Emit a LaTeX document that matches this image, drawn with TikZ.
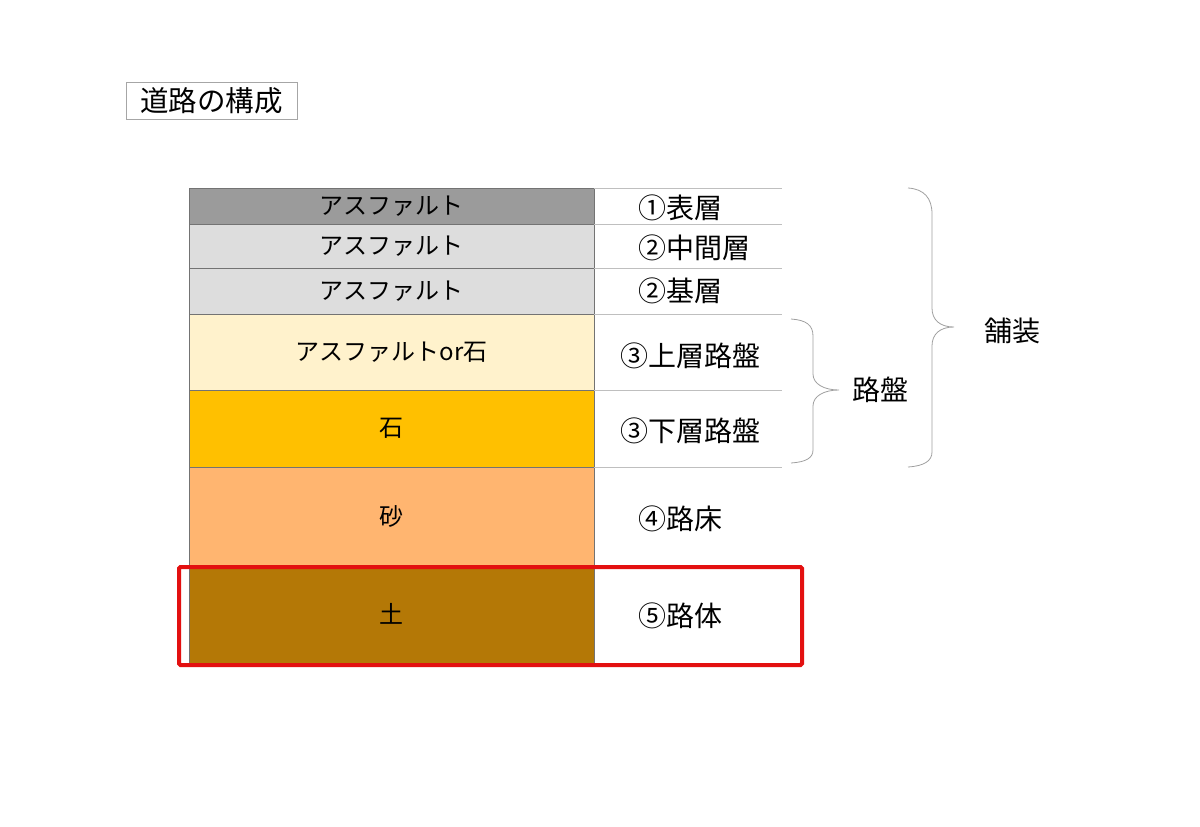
\documentclass[tikz,border=0pt]{standalone}
\usepackage{fontspec}
\setmainfont{Noto Sans CJK JP}
\usetikzlibrary{positioning}
\definecolor{lay1}{HTML}{9B9B9B}
\definecolor{lay2}{HTML}{DDDDDD}
\definecolor{lay4}{HTML}{FFF2CC}
\definecolor{lay5}{HTML}{FFC000}
\definecolor{lay6}{HTML}{FFB570}
\definecolor{lay7}{HTML}{B47806}
\definecolor{redframe}{HTML}{E31010}
\tikzstyle{cell} = [rectangle, draw=gray!90!black, line width=0.6pt, minimum width=405pt, inner sep=0pt, outer sep=0pt, anchor=north, font=\fontsize{24pt}{28pt}\selectfont]
\tikzstyle{side} = [rectangle, minimum width=188pt, inner sep=0pt, outer sep=0pt]
\tikzstyle{lbl} = [inner sep=0pt, anchor=west, font=\fontsize{28pt}{32pt}\selectfont]
\tikzstyle{rule} = [draw=gray!50, line width=0.8pt]
\tikzstyle{brace} = [draw=gray!75, line width=0.8pt]

\begin{document}
\begin{tikzpicture}[x=1pt, y=-1pt]
\useasboundingbox (0,0) rectangle (1200,827);
\node(T)[draw=gray!70, line width=0.6pt, minimum width=171pt, minimum height=37pt, inner sep=0pt, font=\fontsize{28.5pt}{32pt}\selectfont] at (211.5,100.5) {道路の構成};
\node(A1)[cell, fill=lay1, minimum height=36pt] at (391.5,188) {アスファルト};
\node(A2)[cell, fill=lay2, minimum height=44pt, below=0pt of A1] {アスファルト};
\node(A3)[cell, fill=lay2, minimum height=46pt, below=0pt of A2] {アスファルト};
\node(A4)[cell, fill=lay4, minimum height=76pt, below=0pt of A3] {アスファルトor石};
\node(A5)[cell, fill=lay5, minimum height=77pt, below=0pt of A4] {石};
\node(A6)[cell, fill=lay6, minimum height=98pt, below=0pt of A5] {砂};
\node(A7)[cell, fill=lay7, minimum height=98pt, below=0pt of A6] {土};
\node(B1)[side, minimum height=36pt, right=0pt of A1] {};
\node(B2)[side, minimum height=44pt, right=0pt of A2] {};
\node(B3)[side, minimum height=46pt, right=0pt of A3] {};
\node(B4)[side, minimum height=76pt, right=0pt of A4] {};
\node(B5)[side, minimum height=77pt, right=0pt of A5] {};
\node(B6)[side, minimum height=98pt, right=0pt of A6] {};
\node(B7)[side, minimum height=98pt, right=0pt of A7] {};
\node(L1)[lbl, right=44pt of B1.west, yshift=-2pt] {①表層};
\node(L2)[lbl, right=44pt of B2.west, yshift=-2pt] {②中間層};
\node(L3)[lbl, right=44pt of B3.west] {②基層};
\node(L4)[lbl, right=26pt of B4.west, yshift=-4pt] {③上層路盤};
\node(L5)[lbl, right=26pt of B5.west, yshift=-2pt] {③下層路盤};
\node(L6)[lbl, right=44pt of B6.west, yshift=-3pt] {④路床};
\node(L7)[lbl, right=44pt of B7.west, yshift=-2pt] {⑤路体};
\draw[rule](B1.north west)--(B1.north east);
\draw[rule](B2.north west)--(B2.north east);
\draw[rule](B3.north west)--(B3.north east);
\draw[rule](B4.north west)--(B4.north east);
\draw[rule](B5.north west)--(B5.north east);
\draw[rule](B6.north west)--(B6.north east);
\draw[rule](B7.north west)--(B7.north east);
\draw[brace](791,319) .. controls (806,320) and (813,325) .. (813,336) -- (813,374) .. controls (813,384) and (824,390) .. (839,390) .. controls (824,390) and (813,396) .. (813,406) -- (813,450) .. controls (813,458) and (806,462) .. (791,463);
\draw[brace](908,188) .. controls (924,189) and (932,198) .. (932,214) -- (932,308) .. controls (932,320) and (940,327) .. (954,327) .. controls (940,327) and (932,334) .. (932,346) -- (932,452) .. controls (932,461) and (924,466) .. (908,467);
\node(R)[lbl, anchor=center] at (880,390) {路盤};
\node(P)[lbl, anchor=center] at (1012,331) {舗装};
\draw[redframe, line width=4pt, rounded corners=1.5pt]([xshift=-10pt, yshift=-2pt]A7.north west) rectangle ([xshift=20pt, yshift=-2pt]B7.south east);
\end{tikzpicture}
\end{document}
